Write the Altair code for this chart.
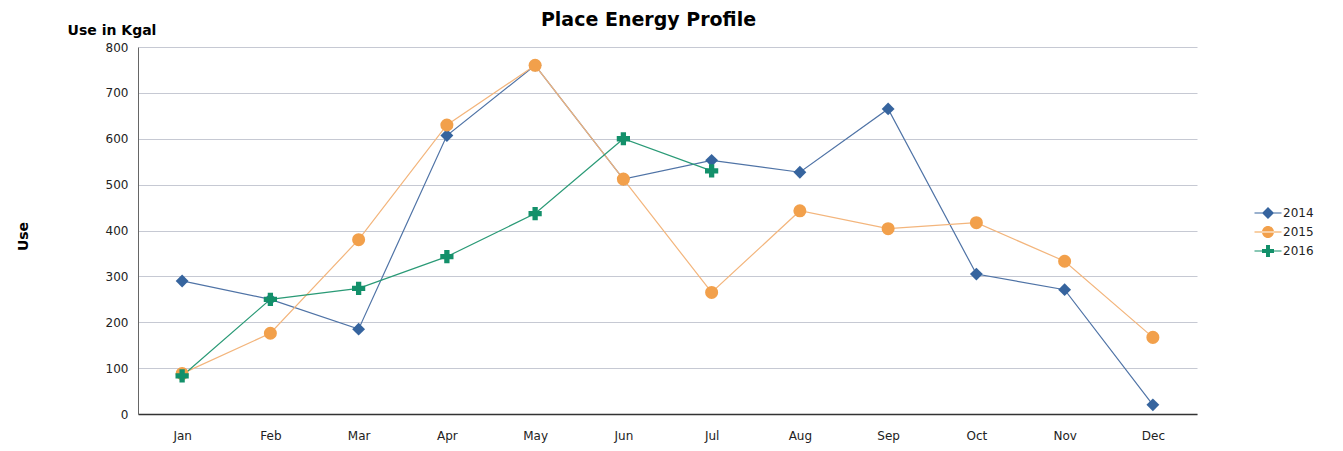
import altair as alt
import pandas as pd

months = ["Jan", "Feb", "Mar", "Apr", "May", "Jun", "Jul", "Aug", "Sep", "Oct", "Nov", "Dec"]
years = ["2014", "2015", "2016"]
use_2014 = [290, 250, 185, 607, 760, 512, 553, 527, 665, 305, 271, 20]
use_2015 = [88, 176, 380, 630, 760, 512, 265, 443, 404, 417, 333, 167]
use_2016 = [83, 250, 274, 343, 437, 600, 530, None, None, None, None, None]

point_colors = ["#36649e", "#f2a04b", "#13906a"]
line_colors = ["#4f73a6", "#f3b57c", "#2a9a76"]
shapes = ["diamond", "circle", "cross"]
# legend keys: a short line with the marker on it
legend_shapes = [
    "M-2.25,-0.1H2.25V0.1H-2.25ZM0,-1L1,0L0,1L-1,0Z",
    "M-2.25,-0.1H2.25V0.1H-2.25ZM-1,0A1,1 0 1,0 1,0A1,1 0 1,0 -1,0Z",
    "M-2.25,-0.1H2.25V0.1H-2.25ZM-0.33,-1H0.33V-0.33H1V0.33H0.33V1H-0.33V0.33H-1V-0.33H-0.33Z",
]

rows = []
for yr, vals in zip(years, [use_2014, use_2015, use_2016]):
    for m, v in zip(months, vals):
        if v is not None:
            rows.append({"month": m, "year": yr, "use": v})
df = pd.DataFrame(rows)
legend_df = pd.DataFrame({"month": ["Jan"] * 3, "year": years, "use": [None] * 3})

FONT = "DejaVu Sans"

x_enc = alt.X("month:N", sort=months, scale=alt.Scale(type="point", padding=0.5),
              axis=alt.Axis(title=None, labelAngle=0, labelPadding=16, ticks=False,
                            domainColor="#333333", domainWidth=1.5, grid=False,
                            labelFontSize=12, labelColor="#222222", labelFont=FONT))
y_enc = alt.Y("use:Q", scale=alt.Scale(domain=[0, 800], nice=False),
              axis=alt.Axis(title="Use", titleAngle=270, titleX=-115, titleY=189,
                            titleAlign="center", titleBaseline="middle",
                            titleFontSize=14, titleFont=FONT, titleFontWeight="bold",
                            titleColor="#000000",
                            values=[0, 100, 200, 300, 400, 500, 600, 700, 800],
                            ticks=False, labelPadding=10, domainColor="#666666",
                            labelFontSize=12, labelColor="#222222", labelFont=FONT,
                            gridColor="#c6c9d3", gridWidth=1))

legend = alt.Legend(title=None, orient="none", legendX=1124, legendY=160, padding=0,
                    symbolSize=144, symbolOpacity=1, labelOffset=9, rowPadding=7,
                    symbolStrokeWidth=0,
                    labelFontSize=12, labelColor="#222222", labelFont=FONT)

lines = alt.Chart(df).mark_line(strokeWidth=1.2).encode(
    x=x_enc, y=y_enc,
    color=alt.Color("year:N", scale=alt.Scale(domain=years, range=line_colors), legend=None),
    detail="year:N",
)

points = alt.Chart(df).mark_point(filled=True, opacity=1).encode(
    x=x_enc, y=y_enc,
    color=alt.Color("year:N", scale=alt.Scale(domain=years, range=point_colors), legend=None),
    shape=alt.Shape("year:N", scale=alt.Scale(domain=years, range=shapes), legend=None),
    size=alt.Size("year:N", scale=alt.Scale(domain=years, range=[165, 175, 165]), legend=None),
    order=alt.Order("year:N"),
)

legend_layer = alt.Chart(legend_df).mark_point(filled=True, opacity=1).encode(
    x=x_enc, y=y_enc,
    color=alt.Color("year:N", scale=alt.Scale(domain=years, range=point_colors), legend=legend),
    shape=alt.Shape("year:N", scale=alt.Scale(domain=years, range=legend_shapes), legend=legend),
)

label_df = pd.DataFrame({"t": ["Use in Kgal"]})
ylabel = alt.Chart(label_df).mark_text(font=FONT, fontSize=14, fontWeight="bold",
                                        align="center", baseline="alphabetic", color="#000000").encode(
    x=alt.value(-26), y=alt.value(-12), text="t:N")

chart = alt.layer(lines, points, legend_layer, ylabel).resolve_scale(
    color="independent", shape="independent", size="independent"
).properties(
    width=1059, height=367,
    padding={"left": 130, "top": 39, "right": 138, "bottom": 29},
    autosize=alt.AutoSizeParams(type="none"),
    background="white",
    title=alt.TitleParams("Place Energy Profile", font=FONT, fontSize=19, fontWeight="bold",
                          color="#000000", anchor="middle", dx=-19, offset=0, dy=6),
).configure_view(stroke="transparent", strokeWidth=0)

chart.save("out.html", embed_options={"renderer": "svg", "actions": False})
